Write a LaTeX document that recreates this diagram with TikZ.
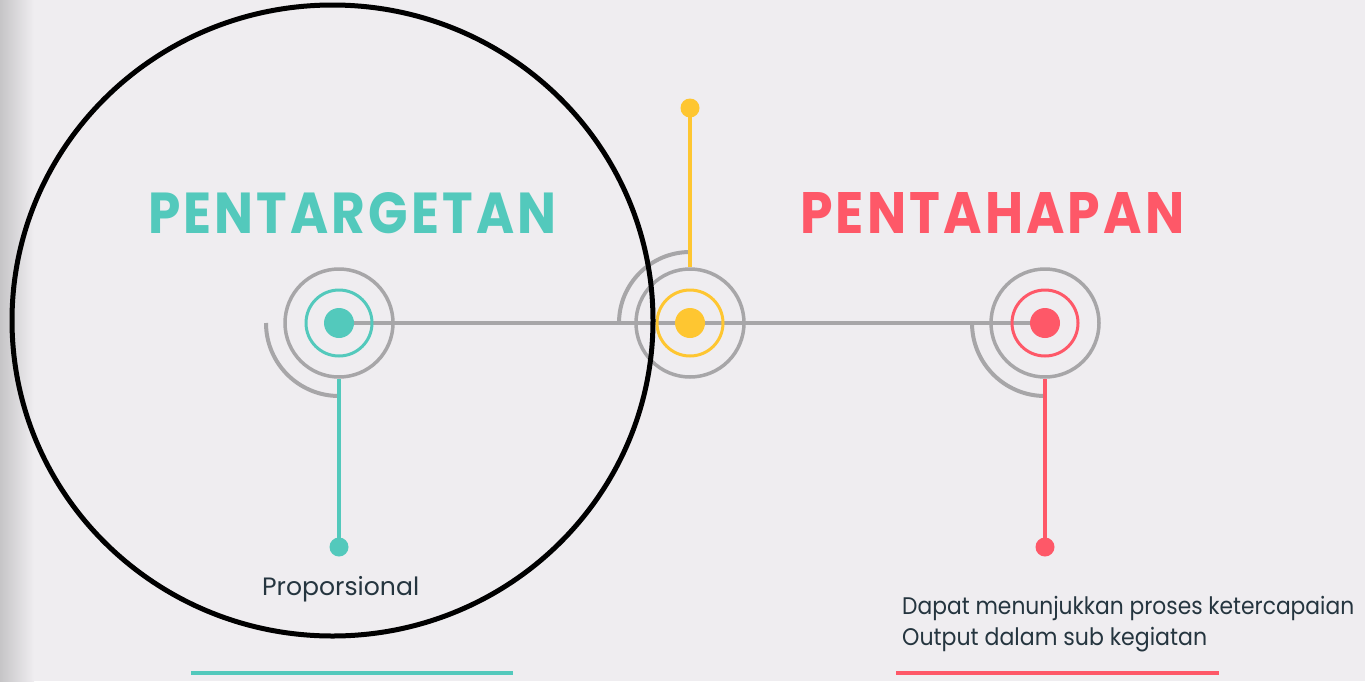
\documentclass[tikz,border=0pt]{standalone}
\usepackage{fontspec}
\setmainfont{Poppins}
\newfontfamily\headfont[LetterSpace=6]{Poppins}
\definecolor{bgc}{HTML}{EFEDF0}
\definecolor{edgegray}{HTML}{C6C5C7}
\definecolor{ringgray}{HTML}{A7A6A8}
\definecolor{tealc}{HTML}{53C9BC}
\definecolor{yellowc}{HTML}{FEC631}
\definecolor{redc}{HTML}{FE5868}
\definecolor{inkc}{HTML}{25353F}
\tikzset{
  outerring/.style={circle, draw=ringgray, line width=3.5pt, minimum size=108pt, inner sep=0pt},
  innerring/.style={circle, draw=#1, line width=3pt, minimum size=66pt, inner sep=0pt},
  hubdot/.style={circle, fill=#1, minimum size=30pt, inner sep=0pt},
  pindot/.style={circle, fill=#1, minimum size=19pt, inner sep=0pt},
  stem/.style={draw=#1, line width=3.8pt},
  trackline/.style={draw=ringgray, line width=4pt},
  quarterarc/.style={draw=ringgray, line width=4pt},
  heading/.style={font=\headfont\bfseries, text=#1, inner sep=0pt, anchor=base west},
  bodytext/.style={font=\fontsize{24}{31}\selectfont, text=inkc, inner sep=0pt, anchor=base west},
  underline/.style={draw=#1, line width=4pt}
}
\begin{document}
\begin{tikzpicture}[x=1pt,y=-1pt]
\useasboundingbox (0,0) rectangle (1365,681);
% background and left edge shade
\fill[bgc] (0,0) rectangle (1365,681);
\shade[left color=edgegray, right color=bgc] (0,0) rectangle (34,681);

% hub positions
\coordinate (tc) at (339,323);
\coordinate (yc) at (690,323);
\coordinate (rc) at (1045,323);

% main track
\draw[trackline] (tc) -- (rc);

% outer rings
\node[outerring] (tring) at (tc) {};
\node[outerring] (yring) at (yc) {};
\node[outerring] (rring) at (rc) {};

% quarter arcs (y axis points down)
\draw[quarterarc] (tc) ++(180:73) arc[start angle=180, end angle=90, radius=73];
\draw[quarterarc] (yc) ++(180:71) arc[start angle=180, end angle=270, radius=71];
\draw[quarterarc] (rc) ++(180:73) arc[start angle=180, end angle=90, radius=73];

% coloured inner rings and hubs
\node[innerring=tealc] (tinner) at (tc) {};
\node[innerring=yellowc] (yinner) at (yc) {};
\node[innerring=redc] (rinner) at (rc) {};
\node[hubdot=tealc] (tdot) at (tc) {};
\node[hubdot=yellowc] (ydot) at (yc) {};
\node[hubdot=redc] (rdot) at (rc) {};

% pins
\node[pindot=tealc] (tpin) at (339,547) {};
\node[pindot=yellowc] (ypin) at (690,108) {};
\node[pindot=redc] (rpin) at (1045,547) {};
\draw[stem=tealc] (tring.south) -- (tpin.center);
\draw[stem=yellowc] (yring.north) -- (ypin.center);
\draw[stem=redc] (rring.south) -- (rpin.center);

% highlight ellipse
\draw[black, line width=5pt] (332.5,320.5) ellipse [x radius=320.5, y radius=315.5];

% headings
\node[heading=tealc] (thead) at (148,233) {\resizebox{408pt}{41pt}{PENTARGETAN}};
\node[heading=redc] (rhead) at (800,233) {\resizebox{384pt}{41pt}{PENTAHAPAN}};

% descriptions
\node[bodytext] (tdesc) at (262,595) {\resizebox{157pt}{!}{Proporsional}};
\node[bodytext] (rdesc1) at (902,614) {\resizebox{452pt}{\height}{Dapat menunjukkan proses ketercapaian}};
\node[bodytext] (rdesc2) at (902,645) {\resizebox{305pt}{\height}{Output dalam sub kegiatan}};

% underlines
\draw[underline=tealc] (191,673) -- (513,673);
\draw[underline=redc] (896,673) -- (1219,673);
\end{tikzpicture}
\end{document}
